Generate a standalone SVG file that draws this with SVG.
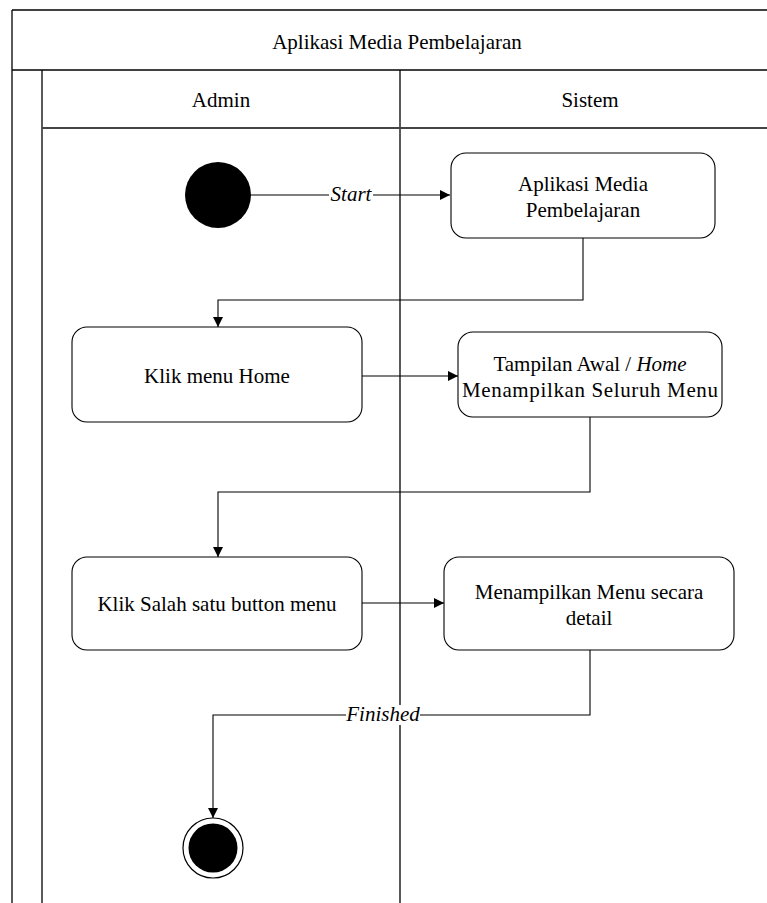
<svg xmlns="http://www.w3.org/2000/svg" width="767" height="903" viewBox="0 0 767 903">
<style>
text{font-family:'Liberation Serif','Times New Roman',Times,serif;font-size:21px;fill:#000;text-anchor:middle}
.frame{fill:none;stroke:#000;stroke-width:1.3}
.node{fill:#fff;stroke:#000;stroke-width:1.1}
.edge{fill:none;stroke:#000;stroke-width:1.1}
.lbl{font-style:italic}
</style>
<defs>
<marker id="arr" viewBox="0 0 10 10" refX="10" refY="5" markerWidth="10" markerHeight="10" markerUnits="userSpaceOnUse" orient="auto">
<path d="M0,0 L10,5 L0,10 Z" fill="#000"/>
</marker>
</defs>
<rect width="767" height="903" fill="#fff"/>
<g id="pool">
<line class="frame" x1="12" y1="10" x2="767" y2="10"/>
<line class="frame" x1="12" y1="10" x2="12" y2="903"/>
<line class="frame" x1="12" y1="70" x2="767" y2="70"/>
<line class="frame" x1="42" y1="70" x2="42" y2="903"/>
<line class="frame" x1="400" y1="70" x2="400" y2="903"/>
<line x1="42" y1="128" x2="767" y2="128" stroke="#444" stroke-width="1.8"/>
<text x="397" y="49">Aplikasi Media Pembelajaran</text>
<text x="221" y="107">Admin</text>
<text x="590" y="107">Sistem</text>
</g>
<g id="edges">
<line class="edge" x1="251" y1="195" x2="450" y2="195" marker-end="url(#arr)"/>
<rect x="329" y="185" width="44" height="20" fill="#fff"/>
<text class="lbl" x="351" y="201">Start</text>
<path class="edge" d="M583,238 V300 H218 V327" marker-end="url(#arr)"/>
<line class="edge" x1="362" y1="376" x2="458" y2="376" marker-end="url(#arr)"/>
<path class="edge" d="M590,417 V492 H218 V557" marker-end="url(#arr)"/>
<line class="edge" x1="362" y1="603" x2="444" y2="603" marker-end="url(#arr)"/>
<path class="edge" d="M590,650 V715 H213 V818" marker-end="url(#arr)"/>
<rect x="346" y="705" width="74" height="20" fill="#fff"/>
<text class="lbl" x="383" y="721">Finished</text>
</g>
<g id="start">
<circle cx="218" cy="195" r="33" fill="#000"/>
</g>
<g id="n1">
<rect class="node" x="451" y="153" width="264" height="85" rx="15"/>
<text x="583" y="191">Aplikasi Media</text>
<text x="583" y="217">Pembelajaran</text>
</g>
<g id="n2">
<rect class="node" x="72" y="327" width="290" height="95" rx="15"/>
<text x="217" y="383">Klik menu Home</text>
</g>
<g id="n3">
<rect class="node" x="458" y="332" width="264" height="85" rx="15"/>
<text x="590" y="371">Tampilan Awal / <tspan font-style="italic">Home</tspan></text>
<text x="590" y="397" textLength="256" lengthAdjust="spacing">Menampilkan Seluruh Menu</text>
</g>
<g id="n4">
<rect class="node" x="72" y="557" width="290" height="93" rx="15"/>
<text x="217" y="611">Klik Salah satu button menu</text>
</g>
<g id="n5">
<rect class="node" x="444" y="557" width="290" height="93" rx="15"/>
<text x="589" y="599">Menampilkan Menu secara</text>
<text x="589" y="625">detail</text>
</g>
<g id="end">
<circle cx="213" cy="848" r="30" fill="#fff" stroke="#000" stroke-width="1.2"/>
<circle cx="213" cy="848" r="24.5" fill="#000"/>
</g>
</svg>
